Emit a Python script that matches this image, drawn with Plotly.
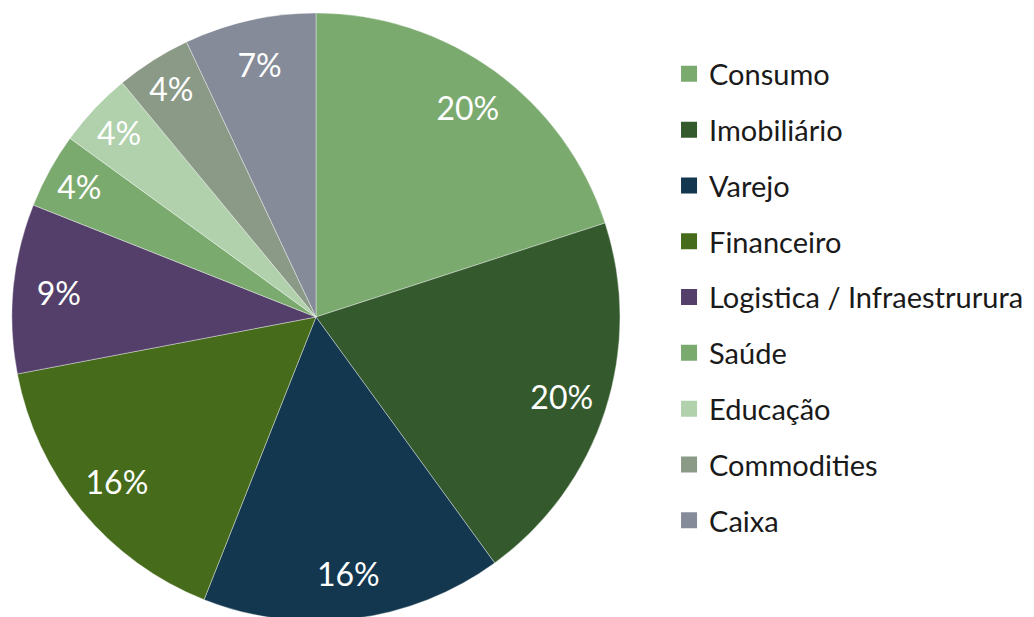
import plotly.graph_objects as go

categories = ["Consumo", "Imobiliário", "Varejo", "Financeiro",
              "Logistica / Infraestrurura", "Saúde", "Educação",
              "Commodities", "Caixa"]
values = [20, 20, 16, 16, 9, 4, 4, 4, 7]
colors = ["#7BAA6F", "#33592D", "#12374F", "#466B1A", "#533F6A",
          "#7BAA6F", "#B0D1AC", "#8B9A87", "#858B98"]

FONT = "Lato, 'Open Sans', sans-serif"
W, H = 1034, 613
dom_x = [4 / W, 612 / W]

fig = go.Figure()
# main pie
fig.add_trace(go.Pie(
    labels=categories, values=values, sort=False, direction="clockwise",
    rotation=0, marker=dict(colors=colors, line=dict(color="rgba(255,255,255,0.55)", width=0.7)),
    textinfo="none", showlegend=False, domain=dict(x=dom_x, y=[0, 1]),
    hoverinfo="label+percent",
))
# label ring (transparent) to place percentages near the rim
fig.add_trace(go.Pie(
    labels=categories, values=values, sort=False, direction="clockwise",
    rotation=0, hole=0.7,
    marker=dict(colors=["rgba(0,0,0,0)"] * len(values), line=dict(width=0)),
    texttemplate="%{value}%", textposition="inside", insidetextorientation="horizontal",
    textfont=dict(family=FONT, size=32, color="white"),
    showlegend=False, domain=dict(x=dom_x, y=[0, 1]), hoverinfo="skip",
))
# legend entries
for c, col in zip(categories, colors):
    fig.add_trace(go.Scatter(
        x=[None], y=[None], mode="markers", name=c, legendgroup=c,
        marker=dict(symbol="square", size=16, color=col),
    ))

fig.update_layout(
    width=W, height=H,
    margin=dict(l=0, r=0, t=5, b=0),
    paper_bgcolor="white", plot_bgcolor="white",
    xaxis=dict(visible=False), yaxis=dict(visible=False),
    legend=dict(x=0.6393, y=1 - 35.5 / 608, xanchor="left", yanchor="top",
                font=dict(family=FONT, size=29, color="#1a1a1a"),
                tracegroupgap=15.1, bgcolor="rgba(0,0,0,0)"),
    font=dict(family=FONT),
)
fig.write_html("out.html")
